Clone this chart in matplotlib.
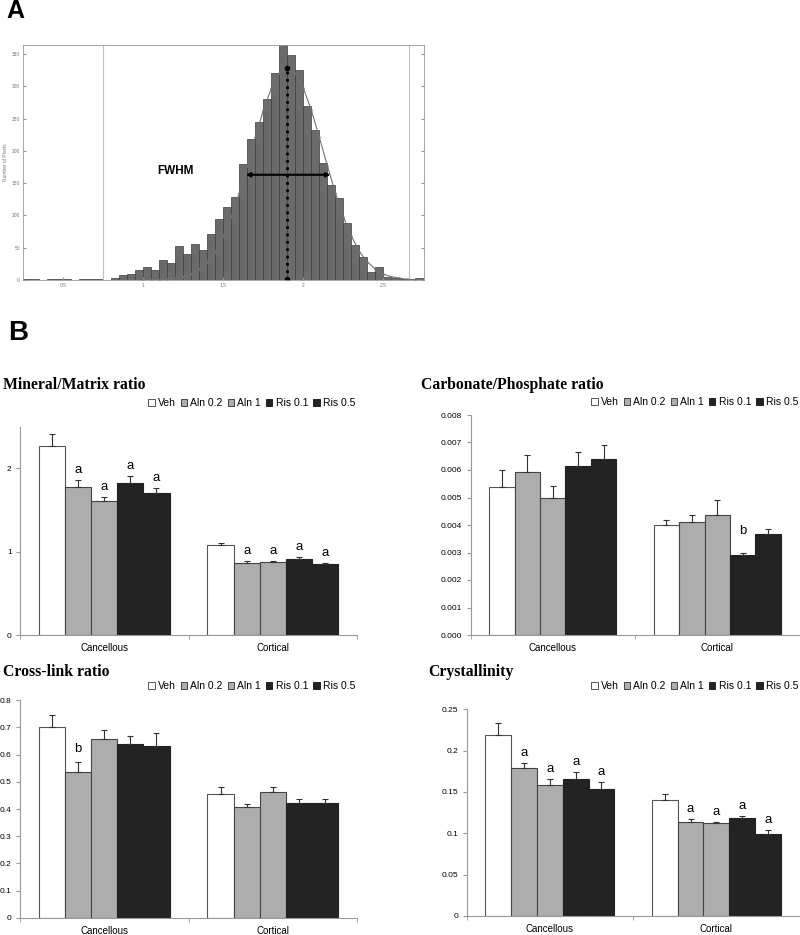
import matplotlib
matplotlib.use('Agg')
import matplotlib.pyplot as plt
from matplotlib.patches import Patch
from matplotlib.ticker import FuncFormatter
import numpy as np

plt.rcParams['font.family'] = ['Liberation Sans', 'DejaVu Sans']

W, H = 800, 935

# ---------------- Panel A data ----------------
hist_bin_starts = np.round(np.arange(0.25, 2.75, 0.05), 2)
hist_counts = [1, 1, 0, 1, 1, 1, 0, 1, 2, 2, 0,
               3, 8, 9, 15, 20, 16, 31, 26, 52, 41, 56, 47, 71, 94, 113, 129,
               180, 218, 244, 281, 321, 370, 349, 325, 270, 233, 182, 147, 127,
               88, 54, 36, 13, 20, 4, 3, 2, 1, 3]
fit_x = [1.00, 1.05, 1.10, 1.15, 1.20, 1.25, 1.30, 1.35, 1.40, 1.45, 1.50, 1.55,
         1.60, 1.65, 1.70, 1.75, 1.80, 1.85, 1.90, 1.95, 2.00, 2.05, 2.10, 2.15,
         2.20, 2.25, 2.30, 2.35, 2.40, 2.45, 2.50, 2.55, 2.60, 2.65, 2.70, 2.75]
fit_y = [0.1, 0.3, 0.6, 1, 3, 5, 9, 17, 28, 44, 68, 98,
         135, 177, 221, 263, 297, 320, 328, 320, 297, 263, 221, 177,
         135, 98, 68, 44, 28, 17, 9, 5, 3, 1, 0.6, 0.3]
peak_x, peak_y = 1.9, 328
fwhm_left, fwhm_right, half_max = 1.64, 2.17, 163
hist_xticks = [0.5, 1, 1.5, 2, 2.5]
hist_yticks = [0, 50, 100, 150, 200, 250, 300, 350]

# ---------------- Panel B data ----------------
sites = ['Cancellous', 'Cortical']
treatments = ['Veh', 'Aln 0.2', 'Aln 1', 'Ris 0.1', 'Ris 0.5']
colors = ['#ffffff', '#adadad', '#adadad', '#232323', '#232323']
edges = ['#555555', '#444444', '#444444', '#222222', '#222222']

mineral_vals = [[2.27, 1.78, 1.61, 1.83, 1.71], [1.076, 0.86, 0.872, 0.908, 0.852]]
mineral_err = [[0.14, 0.08, 0.05, 0.08, 0.06], [0.03, 0.03, 0.015, 0.025, 0.012]]
mineral_letters = [['', 'a', 'a', 'a', 'a'], ['', 'a', 'a', 'a', 'a']]

carb_vals = [[0.00537, 0.00592, 0.00497, 0.00616, 0.00641],
             [0.00399, 0.00412, 0.00435, 0.00291, 0.00367]]
carb_err = [[0.00063, 0.00063, 0.00045, 0.00048, 0.00049],
            [0.00020, 0.00025, 0.00055, 0.00009, 0.00017]]
carb_letters = [['', '', '', '', ''], ['', '', '', 'b', '']]

xlink_vals = [[0.700, 0.535, 0.658, 0.639, 0.631], [0.454, 0.406, 0.461, 0.423, 0.423]]
xlink_err = [[0.047, 0.038, 0.033, 0.031, 0.048], [0.027, 0.011, 0.021, 0.015, 0.015]]
xlink_letters = [['', 'b', '', '', ''], ['', '', '', '', '']]

cryst_vals = [[0.2185, 0.1786, 0.158, 0.166, 0.1536], [0.1407, 0.1133, 0.112, 0.118, 0.0992]]
cryst_err = [[0.015, 0.007, 0.008, 0.0085, 0.008], [0.007, 0.0045, 0.002, 0.0025, 0.0045]]
cryst_letters = [['', 'a', 'a', 'a', 'a'], ['', 'a', 'a', 'a', 'a']]


def px_rect(l, t, r, b):
    return [l / W, 1 - b / H, (r - l) / W, (b - t) / H]


fig = plt.figure(figsize=(W / 100, H / 100), dpi=100)
fig.patch.set_facecolor('white')

# ---------------- Panel A ----------------
fig.text(6 / W, 1 - 11 / H, 'A', fontsize=18, fontweight='bold', va='center', ha='left')
axA = fig.add_axes(px_rect(22.7, 45, 424, 280))
axA.bar(hist_bin_starts, hist_counts, width=0.05, align='edge',
        color='#6b6b6b', edgecolor='#3c3c3c', linewidth=0.5)
axA.axvline(0.75, color='#c0c0c0', lw=0.8)
axA.axvline(2.66, color='#c0c0c0', lw=0.8)
axA.plot(fit_x, fit_y, color='#707070', lw=0.8, marker='.', ms=1.5)
axA.plot([peak_x, peak_x], [0, peak_y], color='black', ls=':', lw=2)
axA.plot([peak_x, peak_x], [2, peak_y], 'o', color='black', ms=3)
axA.annotate('', xy=(fwhm_right, half_max), xytext=(fwhm_left, half_max),
             arrowprops=dict(arrowstyle='<|-|>', color='black', lw=1.5,
                             mutation_scale=6, shrinkA=0, shrinkB=0))
axA.text(1.2, 169, 'FWHM', fontsize=8.5, fontweight='bold', ha='center', va='center')
axA.set_xlim(0.246, 2.754)
axA.set_ylim(0, 364)
axA.set_xticks(hist_xticks)
axA.set_xticklabels(['0.5', '1', '1.5', '2', '2.5'])
axA.set_yticks(hist_yticks)
axA.tick_params(labelsize=3.5, labelcolor='#777777', color='#999999', length=2,
                direction='in', right=True, pad=2)
axA.set_ylabel('Number of Pixels', fontsize=3.5, color='#777777', labelpad=3)
for s in axA.spines.values():
    s.set_color('#999999')
    s.set_linewidth(0.6)

# ---------------- Panel B ----------------
fig.text(8 / W, 1 - 333 / H, 'B', fontsize=20, fontweight='bold', va='center', ha='left')

bar_w = 0.155


def bar_panel(rect, vals, errs, letters, ylim, yticks, fmt, title, title_xy,
              legend_xy, letter_offsets=None):
    ax = fig.add_axes(px_rect(*rect))
    for g in range(2):
        for i in range(5):
            x = g + (i - 2) * bar_w
            ax.bar(x, vals[g][i], width=bar_w, color=colors[i],
                   edgecolor=edges[i], linewidth=0.8, zorder=2)
            ax.errorbar(x, vals[g][i], yerr=[[0], [errs[g][i]]], fmt='none',
                        ecolor='#333333', elinewidth=0.8, capsize=2.2,
                        capthick=0.8, zorder=3)
            if letters[g][i]:
                off = 7
                if letter_offsets and (g, i) in letter_offsets:
                    off = letter_offsets[(g, i)]
                ax.annotate(letters[g][i], (x, vals[g][i] + errs[g][i]),
                            xytext=(0, off), textcoords='offset pixels',
                            ha='center', va='baseline', fontsize=9.5)
    ax.set_xlim(-0.5, 1.5)
    ax.set_ylim(*ylim)
    ax.set_xticks([0, 1])
    ax.set_xticklabels(sites)
    ax.set_xticks([-0.5, 0.5, 1.5], minor=True)
    ax.tick_params(axis='x', which='major', length=0, labelsize=7, pad=6)
    ax.tick_params(axis='x', which='minor', length=3, color='#999999')
    ax.set_yticks(yticks)
    ax.yaxis.set_major_formatter(FuncFormatter(fmt))
    ax.tick_params(axis='y', labelsize=6, length=3, color='#999999', pad=3)
    for s in ['top', 'right']:
        ax.spines[s].set_visible(False)
    for s in ['left', 'bottom']:
        ax.spines[s].set_color('#999999')
        ax.spines[s].set_linewidth(0.8)
    fig.text(title_xy[0] / W, 1 - title_xy[1] / H, title, fontsize=11.3,
             fontweight='bold', family=['Liberation Serif', 'DejaVu Serif'],
             ha='left', va='center')
    handles = [Patch(facecolor=colors[i], edgecolor=edges[i], linewidth=0.7,
                     label=treatments[i]) for i in range(5)]
    fig.legend(handles=handles, loc='center right',
               bbox_to_anchor=(legend_xy[0] / W, 1 - legend_xy[1] / H),
               ncol=5, frameon=False, fontsize=7.5, handlelength=0.6,
               handleheight=0.6, handletextpad=0.3, columnspacing=0.5,
               borderpad=0, borderaxespad=0)
    return ax


g_fmt = lambda v, p: '{:g}'.format(round(v, 4))
f3_fmt = lambda v, p: '{:.3f}'.format(v)

bar_panel((20, 426.7, 357, 635), mineral_vals, mineral_err, mineral_letters,
          (0, 2.5), [0, 1, 2], g_fmt, 'Mineral/Matrix ratio', (3, 385), (355, 403))
bar_panel((470.5, 415, 799.5, 635), carb_vals, carb_err, carb_letters,
          (0, 0.008), [0, 0.001, 0.002, 0.003, 0.004, 0.005, 0.006, 0.007, 0.008],
          f3_fmt, 'Carbonate/Phosphate ratio', (421, 385), (798, 402),
          letter_offsets={(1, 3): 18})
bar_panel((20, 700.3, 357, 917.7), xlink_vals, xlink_err, xlink_letters,
          (0, 0.8), [0, 0.1, 0.2, 0.3, 0.4, 0.5, 0.6, 0.7, 0.8], g_fmt,
          'Cross-link ratio', (3, 672), (355, 686), letter_offsets={(0, 1): 10})
bar_panel((466.7, 709.3, 799.5, 916), cryst_vals, cryst_err, cryst_letters,
          (0, 0.25), [0, 0.05, 0.1, 0.15, 0.2, 0.25], g_fmt,
          'Crystallinity', (428, 672), (798, 686))

fig.savefig('out.png', dpi=100, facecolor='white')
